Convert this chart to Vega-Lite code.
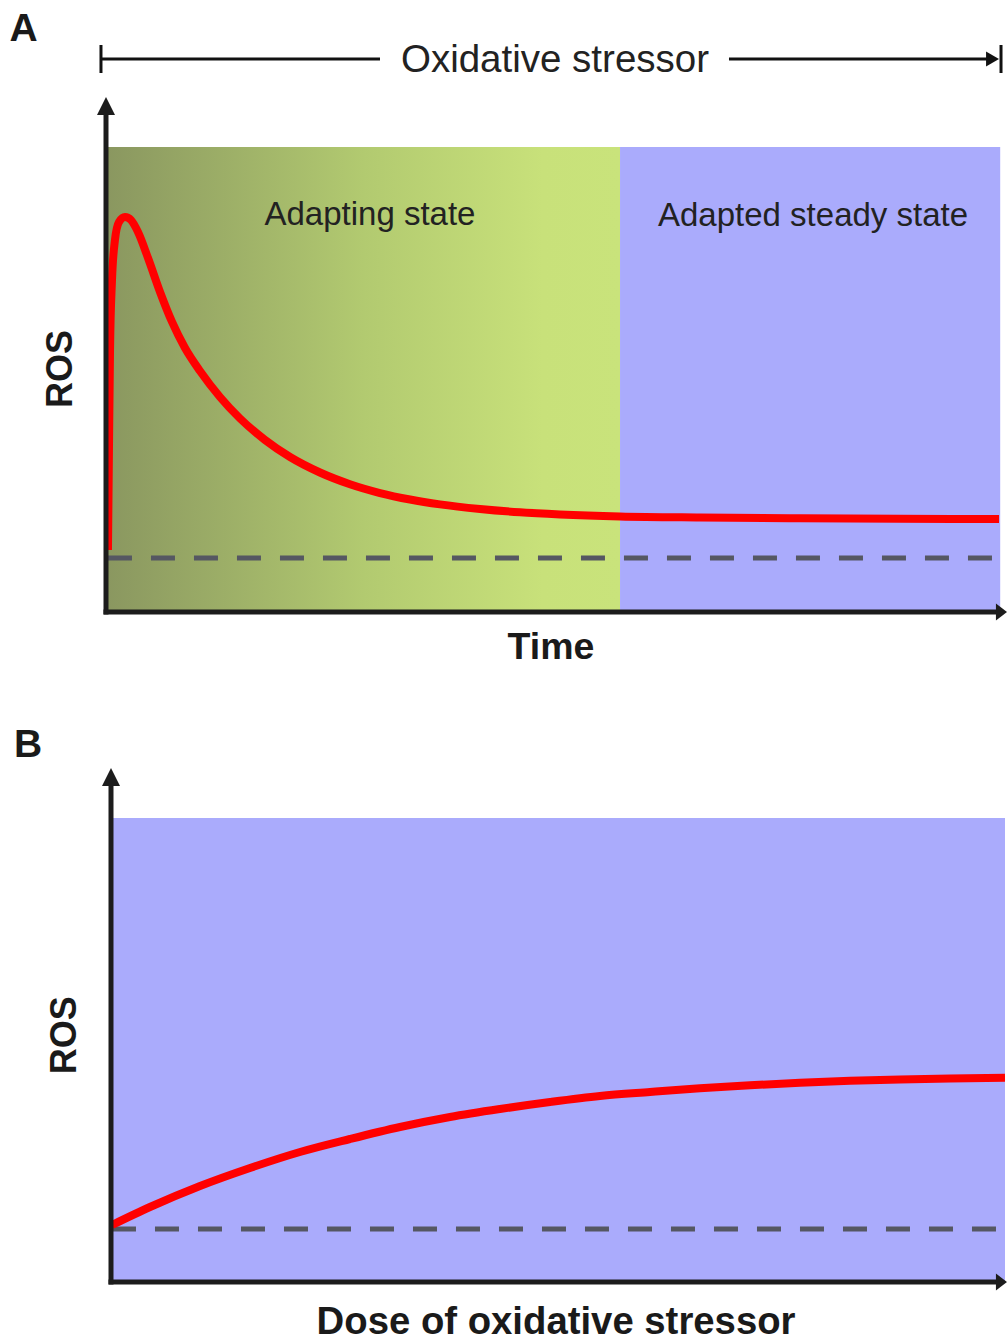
{
  "$schema": "https://vega.github.io/schema/vega-lite/v6.json",
  "padding": 0,
  "spacing": 0,
  "background": "white",
  "config": {"view": {"stroke": null}, "concat": {"spacing": 0}, "text": {"font": "Liberation Sans"}},
  "vconcat": [
    {
      "width": 1008,
      "height": 670,
      "encoding": {
        "x": {"field": "t", "type": "quantitative", "scale": {"domain": [-11.83, 100.67], "nice": false, "zero": false}, "axis": null},
        "y": {"field": "r", "type": "quantitative", "scale": {"domain": [-12.473, 131.613], "nice": false, "zero": false}, "axis": null}
      },
      "layer": [
        {
          "data": {"values": [{"t": 0.1, "t2": 57.37, "r": 0, "r2": 100}]},
          "mark": {"type": "rect", "color": {"gradient": "linear", "x1": 0, "x2": 1, "y1": 0, "y2": 0, "stops": [{"offset": 0, "color": "#8A9760"}, {"offset": 0.5, "color": "#B2CA70"}, {"offset": 0.85, "color": "#C8E17A"}, {"offset": 1, "color": "#C9E37B"}]}},
          "encoding": {"x2": {"field": "t2"}, "y2": {"field": "r2"}}
        },
        {
          "data": {"values": [{"t": 57.37, "t2": 99.8, "r": 0, "r2": 100}]},
          "mark": {"type": "rect", "color": "#AAABFC"},
          "encoding": {"x2": {"field": "t2"}, "y2": {"field": "r2"}}
        },
        {
          "data": {"values": [{"t": 0.22, "t2": 100.1, "r": 11.61}]},
          "mark": {"type": "rule", "color": "#555762", "strokeWidth": 5, "strokeDash": [24, 19]},
          "encoding": {"x2": {"field": "t2"}}
        },
        {
          "data": {"values": [
            {"t": 0.22, "r": 13.33}, {"t": 0.33, "r": 34.84}, {"t": 0.45, "r": 56.34}, {"t": 0.67, "r": 71.4},
            {"t": 1.0, "r": 80.0}, {"t": 1.45, "r": 83.87}, {"t": 2.12, "r": 84.95}, {"t": 2.79, "r": 84.3},
            {"t": 3.57, "r": 81.72}, {"t": 4.69, "r": 76.13}, {"t": 6.03, "r": 68.82}, {"t": 7.37, "r": 62.37},
            {"t": 8.82, "r": 56.77}, {"t": 10.49, "r": 51.83}, {"t": 12.72, "r": 46.24}, {"t": 14.96, "r": 41.61},
            {"t": 17.75, "r": 36.99}, {"t": 20.54, "r": 33.33}, {"t": 23.88, "r": 30.0}, {"t": 27.23, "r": 27.48},
            {"t": 30.58, "r": 25.59}, {"t": 33.93, "r": 24.19}, {"t": 37.28, "r": 23.14}, {"t": 41.74, "r": 22.15},
            {"t": 46.21, "r": 21.44}, {"t": 50.67, "r": 20.99}, {"t": 57.37, "r": 20.56}, {"t": 66.29, "r": 20.32},
            {"t": 77.46, "r": 20.15}, {"t": 88.62, "r": 20.04}, {"t": 99.67, "r": 20.0}
          ]},
          "mark": {"type": "line", "color": "#FF0000", "strokeWidth": 8, "interpolate": "monotone", "strokeCap": "butt"},
          "encoding": {}
        },
        {
          "data": {"values": [
            {"t": 0, "t2": 0, "r": 0, "r2": 107.5},
            {"t": 0, "t2": 99.44, "r": 0, "r2": 0}
          ]},
          "mark": {"type": "rule", "color": "#1C1C1C", "strokeWidth": 5, "strokeCap": "square"},
          "encoding": {"x2": {"field": "t2"}, "y2": {"field": "r2"}}
        },
        {
          "data": {"values": [{"t": 0, "r": 108.8}]},
          "mark": {"type": "point", "shape": "M0,-1L1,1L-1,1Z", "filled": true, "size": 324, "color": "#1C1C1C", "opacity": 1, "strokeWidth": 0},
          "encoding": {}
        },
        {
          "data": {"values": [{"t": 99.61, "r": 0}]},
          "mark": {"type": "point", "shape": "M1,0L-0.3,-1L-0.3,1Z", "filled": true, "size": 289, "color": "#1C1C1C", "opacity": 1, "strokeWidth": 0},
          "encoding": {}
        },
        {
          "data": {"values": [
            {"t": -0.45, "t2": 30.58, "r": 118.92, "r2": 118.92},
            {"t": 69.53, "t2": 98.5, "r": 118.92, "r2": 118.92},
            {"t": -0.56, "t2": -0.56, "r": 115.91, "r2": 121.94},
            {"t": 99.89, "t2": 99.89, "r": 115.91, "r2": 121.94}
          ]},
          "mark": {"type": "rule", "color": "#111111", "strokeWidth": 3},
          "encoding": {"x2": {"field": "t2"}, "y2": {"field": "r2"}}
        },
        {
          "data": {"values": [{"t": 98.83, "r": 118.92}]},
          "mark": {"type": "point", "shape": "M1,0L-0.73,-1L-0.73,1Z", "filled": true, "size": 225, "color": "#111111", "opacity": 1, "strokeWidth": 0},
          "encoding": {}
        },
        {
          "data": {"values": [
            {"t": 50.11, "r": 118.71, "label": "Oxidative stressor", "size": 38.5},
            {"t": 29.46, "r": 85.38, "label": "Adapting state", "size": 33},
            {"t": 78.91, "r": 85.16, "label": "Adapted steady state", "size": 33}
          ]},
          "mark": {"type": "text", "align": "center", "baseline": "middle", "fontSize": 33, "color": "#222222"},
          "encoding": {"text": {"field": "label"}, "size": {"field": "size", "type": "quantitative", "scale": null}}
        },
        {
          "data": {"values": [
            {"t": -9.21, "r": 125.4, "label": "A", "size": 39},
            {"t": 49.67, "r": -7.74, "label": "Time", "size": 37.5}
          ]},
          "mark": {"type": "text", "align": "center", "baseline": "middle", "fontSize": 37, "fontWeight": "bold", "color": "#1A1A1A"},
          "encoding": {"text": {"field": "label"}, "size": {"field": "size", "type": "quantitative", "scale": null}}
        },
        {
          "data": {"values": [{"t": -5.02, "r": 52.26, "label": "ROS"}]},
          "mark": {"type": "text", "align": "center", "baseline": "middle", "fontSize": 36, "fontWeight": "bold", "angle": 270, "color": "#1A1A1A"},
          "encoding": {"text": {"field": "label"}}
        }
      ]
    },
    {
      "width": 1008,
      "height": 670,
      "encoding": {
        "x": {"field": "t", "type": "quantitative", "scale": {"domain": [-12.416, 100.336], "nice": false, "zero": false}, "axis": null},
        "y": {"field": "r", "type": "quantitative", "scale": {"domain": [-12.5, 131.897], "nice": false, "zero": false}, "axis": null}
      },
      "layer": [
        {
          "data": {"values": [{"t": 0, "t2": 100, "r": 0, "r2": 100}]},
          "mark": {"type": "rect", "color": "#AAABFC"},
          "encoding": {"x2": {"field": "t2"}, "y2": {"field": "r2"}}
        },
        {
          "data": {"values": [{"t": 0.11, "t2": 99.9, "r": 11.42}]},
          "mark": {"type": "rule", "color": "#555762", "strokeWidth": 5, "strokeDash": [24, 19]},
          "encoding": {"x2": {"field": "t2"}}
        },
        {
          "data": {"values": [
            {"t": 0.11, "r": 12.28}, {"t": 4.36, "r": 16.16}, {"t": 9.96, "r": 20.69}, {"t": 15.55, "r": 24.57},
            {"t": 21.14, "r": 28.02}, {"t": 26.73, "r": 30.82}, {"t": 32.33, "r": 33.41}, {"t": 37.92, "r": 35.56},
            {"t": 43.51, "r": 37.28}, {"t": 49.11, "r": 38.79}, {"t": 54.7, "r": 40.09}, {"t": 60.29, "r": 40.95},
            {"t": 65.88, "r": 41.75}, {"t": 71.48, "r": 42.4}, {"t": 77.07, "r": 42.95}, {"t": 82.66, "r": 43.35},
            {"t": 88.26, "r": 43.65}, {"t": 93.85, "r": 43.85}, {"t": 100.0, "r": 44.0}
          ]},
          "mark": {"type": "line", "color": "#FF0000", "strokeWidth": 8, "interpolate": "monotone", "strokeCap": "butt"},
          "encoding": {}
        },
        {
          "data": {"values": [
            {"t": 0, "t2": 0, "r": 0, "r2": 108.19},
            {"t": 0, "t2": 99.1, "r": 0, "r2": 0}
          ]},
          "mark": {"type": "rule", "color": "#1C1C1C", "strokeWidth": 5, "strokeCap": "square"},
          "encoding": {"x2": {"field": "t2"}, "y2": {"field": "r2"}}
        },
        {
          "data": {"values": [{"t": 0, "r": 108.84}]},
          "mark": {"type": "point", "shape": "M0,-1L1,1L-1,1Z", "filled": true, "size": 324, "color": "#1C1C1C", "opacity": 1, "strokeWidth": 0},
          "encoding": {}
        },
        {
          "data": {"values": [{"t": 99.27, "r": 0}]},
          "mark": {"type": "point", "shape": "M1,0L-0.3,-1L-0.3,1Z", "filled": true, "size": 289, "color": "#1C1C1C", "opacity": 1, "strokeWidth": 0},
          "encoding": {}
        },
        {
          "data": {"values": [
            {"t": -9.28, "r": 115.7, "label": "B", "size": 39},
            {"t": 49.78, "r": -8.84, "label": "Dose of oxidative stressor", "size": 38.3}
          ]},
          "mark": {"type": "text", "align": "center", "baseline": "middle", "fontSize": 37, "fontWeight": "bold", "color": "#1A1A1A"},
          "encoding": {"text": {"field": "label"}, "size": {"field": "size", "type": "quantitative", "scale": null}}
        },
        {
          "data": {"values": [{"t": -5.15, "r": 53.2, "label": "ROS"}]},
          "mark": {"type": "text", "align": "center", "baseline": "middle", "fontSize": 36, "fontWeight": "bold", "angle": 270, "color": "#1A1A1A"},
          "encoding": {"text": {"field": "label"}}
        }
      ]
    }
  ]
}
